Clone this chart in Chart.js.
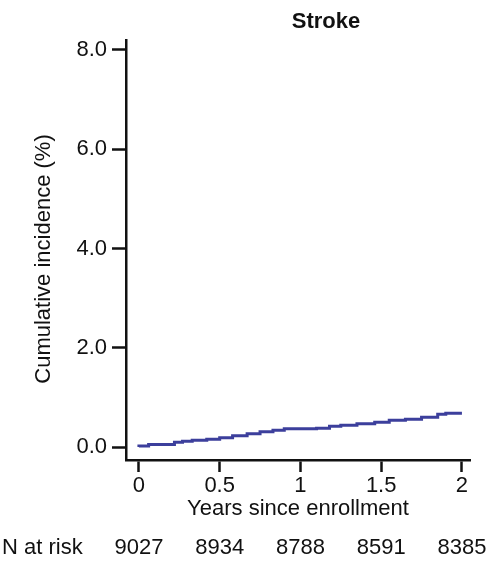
<!DOCTYPE html>
<html>
<head>
<meta charset="utf-8">
<script src="https://cdn.jsdelivr.net/npm/chart.js@4"></script>
<style>
  html, body { margin: 0; padding: 0; background: #fff; }
  #wrap { width: 492px; height: 568px; }
</style>
</head>
<body>
<div id="wrap"><canvas id="strokeChart" width="492" height="568"></canvas></div>
<script>
// years since enrollment and cumulative incidence (%) - step curve
const years = [0, 0.06, 0.22, 0.27, 0.33, 0.42, 0.50, 0.58, 0.67, 0.75, 0.83, 0.90, 1.00, 1.10, 1.18, 1.25, 1.35, 1.46, 1.55, 1.65, 1.75, 1.85, 1.90, 2.00];
const incidence = [0, 0.02, 0.05, 0.10, 0.12, 0.14, 0.16, 0.19, 0.23, 0.27, 0.31, 0.34, 0.37, 0.37, 0.38, 0.42, 0.44, 0.47, 0.50, 0.54, 0.56, 0.60, 0.66, 0.68];
const xTicks = [0, 0.5, 1, 1.5, 2];
const yTicks = [0, 2, 4, 6, 8];
const atRisk = [9027, 8934, 8788, 8591, 8385];

const fontFam = "Arial, 'Liberation Sans', sans-serif";

// titre, titre de l'axe y + ligne "N at risk"
const extraText = {
    id: "extraText",
    afterDraw(chart) {
        const ctx = chart.ctx;
        const x = chart.scales.x;
        ctx.save();
        ctx.fillStyle = "#111";
        ctx.textBaseline = "middle";
        ctx.font = "bold 22px " + fontFam;
        ctx.textAlign = "center";
        ctx.fillText("Stroke", 326, 22);
        ctx.font = "22px " + fontFam;
        ctx.save();
        ctx.translate(44, 259);
        ctx.rotate(-Math.PI / 2);
        ctx.fillText("Cumulative incidence (%)", 0, 0);
        ctx.restore();
        ctx.textAlign = "left";
        ctx.fillText("N at risk", 2, 548);
        ctx.textAlign = "center";
        atRisk.forEach((n, i) => {
            ctx.fillText(String(n), x.getPixelForValue(xTicks[i]), 548);
        });
        ctx.restore();
    }
};

const ctx = document.getElementById("strokeChart").getContext("2d");
new Chart(ctx, {
    type: "line",
    data: {
        datasets: [{
            data: years.map((t, i) => ({ x: t, y: incidence[i] })),
            borderColor: "#3c3f9c",
            borderWidth: 3,
            pointRadius: 0,
            stepped: "after",
            fill: false
        }]
    },
    options: {
        responsive: false,
        animation: false,
        layout: { padding: { top: 40, right: 22, bottom: 48, left: 0 } },
        plugins: {
            legend: { display: false },
            tooltip: { enabled: false }
        },
        scales: {
            x: {
                type: "linear",
                min: -0.08,
                max: 2.05,
                afterBuildTicks: s => { s.ticks = xTicks.map(v => ({ value: v })); },
                afterFit: s => { s.height = 60; },
                ticks: {
                    color: "#111",
                    font: { family: fontFam, size: 22, lineHeight: 1 },
                    padding: 3,
                    maxRotation: 0,
                    callback: v => String(v)
                },
                grid: { drawOnChartArea: false, drawTicks: true, tickLength: 12, tickWidth: 2.5, tickColor: "#111" },
                border: { display: true, color: "#111", width: 2.5 },
                title: {
                    display: true,
                    text: "Years since enrollment",
                    color: "#111",
                    font: { family: fontFam, size: 22, lineHeight: 1 },
                    padding: { top: 2, bottom: 0 }
                }
            },
            y: {
                type: "linear",
                min: -0.26,
                max: 8.2,
                afterBuildTicks: s => { s.ticks = yTicks.map(v => ({ value: v })); },
                afterFit: s => { s.width = 126; },
                ticks: {
                    color: "#111",
                    font: { family: fontFam, size: 22, lineHeight: 1 },
                    padding: 5,
                    callback: v => Number(v).toFixed(1)
                },
                grid: { drawOnChartArea: false, drawTicks: true, tickLength: 14, tickWidth: 2.5, tickColor: "#111" },
                border: { display: true, color: "#111", width: 2.5 }
            }
        }
    },
    plugins: [extraText]
});
</script>
</body>
</html>
